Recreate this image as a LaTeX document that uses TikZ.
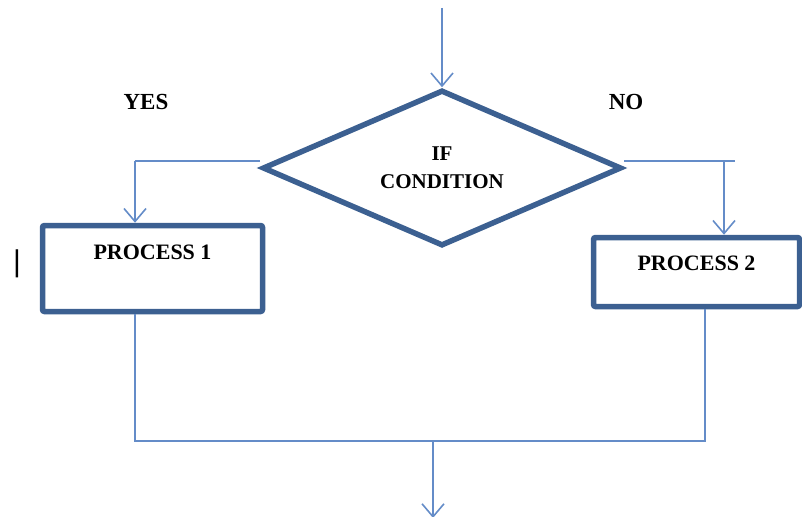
\documentclass[tikz,border=0pt]{standalone}
\usepackage{fontspec}
\setmainfont{Liberation Serif}
\setsansfont{Liberation Sans}
\usetikzlibrary{shapes,arrows.meta}
\definecolor{boxblue}{RGB}{60,96,145}
\definecolor{lineblue}{RGB}{100,140,200}
\tikzset{
    block/.style = {draw=boxblue,
                    line width=5.5pt,
                    rectangle,
                    rounded corners=2pt,
                    font=\fontsize{22}{24}\selectfont\bfseries
    },
    decision/.style = {draw=boxblue,
                    line width=5.5pt,
                    diamond,
                    aspect=2.3,
                    inner sep=0pt,
                    minimum width=359pt,
                    minimum height=156pt,
                    align=center,
                    font=\fontsize{21}{28}\selectfont\bfseries
    },
    branch/.style = {font=\fontsize{23}{26}\selectfont\bfseries},
    line/.style = {draw=lineblue, line width=1.6pt},
    arrow/.style = {line, -{Straight Barb[length=13pt,width=22pt]}}
}
\begin{document}
\begin{tikzpicture}[x=1pt,y=-1pt]
    \useasboundingbox (0,0) rectangle (802,516);

    \node [decision] (cond) at (442,168) {IF\\CONDITION};
    \node [block, minimum width=220pt, minimum height=86pt, text depth=32pt] (proc1) at (152.5,268.5) {PROCESS 1};
    \node [block, minimum width=206pt, minimum height=69pt, text depth=18pt] (proc2) at (696.5,272) {PROCESS 2};
    \node [branch] (yes) at (146,102) {YES};
    \node [branch] (no)  at (626,102) {NO};
    \node [font=\fontsize{30}{30}\selectfont\sffamily] (cursor) at (17,264) {|};

    \coordinate (start)  at (442,8);
    \coordinate (lturn)  at (135,161);
    \coordinate (rturn)  at (724,161);
    \coordinate (rstub)  at (735,161);
    \coordinate (join)   at (433,441);
    \coordinate (rjoin)  at (705,441);
    \coordinate (finish) at (433,518);

    \draw[arrow] (start) -- (cond.north);
    \draw[line] ([yshift=7pt]cond.west) -- (lturn);
    \draw[arrow] (lturn) -- (lturn |- proc1.north);
    \draw[line] ([yshift=7pt]cond.east) -- (rstub);
    \draw[arrow] (rturn) -- (rturn |- proc2.north);
    \draw[line] (lturn |- proc1.south) -- (lturn |- join) -- (rjoin) -- (rjoin |- proc2.south);
    \draw[arrow] (join) -- (finish);
\end{tikzpicture}
\end{document}
